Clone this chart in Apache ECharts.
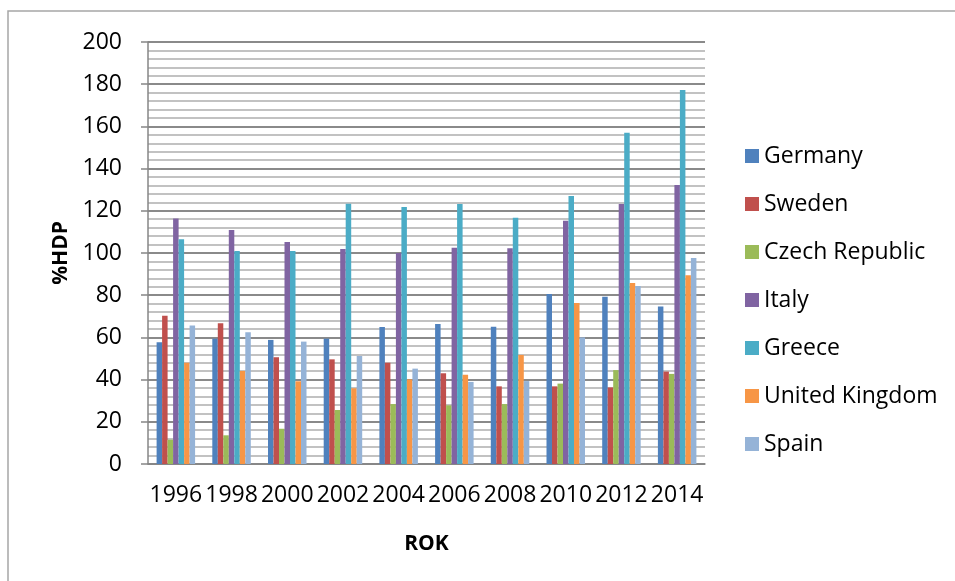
<!DOCTYPE html>
<html>
<head>
<meta charset="utf-8">
<script src="https://cdn.jsdelivr.net/npm/echarts@6/dist/echarts.min.js"></script>
<style>html,body{margin:0;padding:0;background:#fff}#c{width:955px;height:581px}</style>
</head>
<body>
<div id="c"></div>
<script>
const years = ['1996','1998','2000','2002','2004','2006','2008','2010','2012','2014'];
const germany = [57.7, 59.4, 58.8, 59.4, 64.9, 66.4, 65.1, 80.6, 79.3, 74.7];
const sweden  = [70.3, 66.7, 50.6, 49.6, 48.0, 43.0, 36.8, 36.8, 36.3, 43.8];
const czech   = [11.5, 13.6, 16.7, 25.6, 28.4, 27.8, 28.4, 38.1, 44.5, 42.7];
const italy   = [116.4, 110.9, 105.2, 101.9, 100.0, 102.5, 102.2, 115.3, 123.2, 132.2];
const greece  = [106.5, 100.9, 100.9, 123.4, 121.8, 123.2, 116.7, 127.0, 157.0, 177.3];
const uk      = [48.0, 44.1, 39.2, 35.9, 40.1, 42.3, 51.7, 76.3, 85.8, 89.4];
const spain   = [65.6, 62.4, 58.0, 51.2, 45.2, 38.9, 39.3, 60.0, 84.4, 97.6];
const seriesNames = ['Germany','Sweden','Czech Republic','Italy','Greece','United Kingdom','Spain'];
const seriesData = [germany, sweden, czech, italy, greece, uk, spain];
const colors = ['#4F81BD','#C0504D','#9BBB59','#8064A2','#4BACC6','#F79646','#95B3D7'];
const font = 'Open Sans, Liberation Sans, sans-serif';

const chart = echarts.init(document.getElementById('c'));
chart.setOption({
  animation: false,
  color: colors,
  graphic: [{
    type: 'rect', shape: {x: 8, y: 11, width: 960, height: 600},
    style: {fill: 'none', stroke: '#a6a6a6', lineWidth: 1.5}, silent: true
  }],
  grid: {left: 148, right: 250, top: 42, bottom: 117},
  legend: {
    orient: 'vertical', left: 740, top: 139,
    itemWidth: 14, itemHeight: 14, itemGap: 24,
    icon: 'rect',
    textStyle: {fontFamily: font, fontSize: 23, color: '#000', lineHeight: 24, padding: [0,0,0,0]},
    data: seriesNames
  },
  xAxis: {
    type: 'category', data: years,
    name: 'ROK', nameLocation: 'middle', nameGap: 70,
    nameTextStyle: {fontFamily: font, fontSize: 21, fontWeight: 'bold', color: '#000'},
    axisLine: {lineStyle: {color: '#868686', width: 1.5}},
    axisTick: {show: false},
    axisLabel: {interval: 0, margin: 20, fontFamily: font, fontSize: 23, color: '#000'}
  },
  yAxis: {
    type: 'value', min: 0, max: 200, interval: 20,
    name: '%HDP', nameLocation: 'middle', nameGap: 76,
    nameTextStyle: {fontFamily: font, fontSize: 21, fontWeight: 'bold', color: '#000'},
    axisLine: {show: true, lineStyle: {color: '#868686', width: 1.5}},
    axisTick: {show: true, length: 7, lineStyle: {color: '#868686', width: 1.5}},
    axisLabel: {margin: 26, fontFamily: font, fontSize: 23, color: '#000'},
    splitLine: {lineStyle: {color: '#8a8a8a', width: 2}},
    minorTick: {show: false, splitNumber: 5},
    minorSplitLine: {show: true, lineStyle: {color: '#c2c2c2', width: 2}}
  },
  series: seriesNames.map((n, i) => ({
    name: n, type: 'bar', data: seriesData[i],
    barWidth: 5.5, barGap: '0%'
  }))
});
</script>
</body>
</html>
